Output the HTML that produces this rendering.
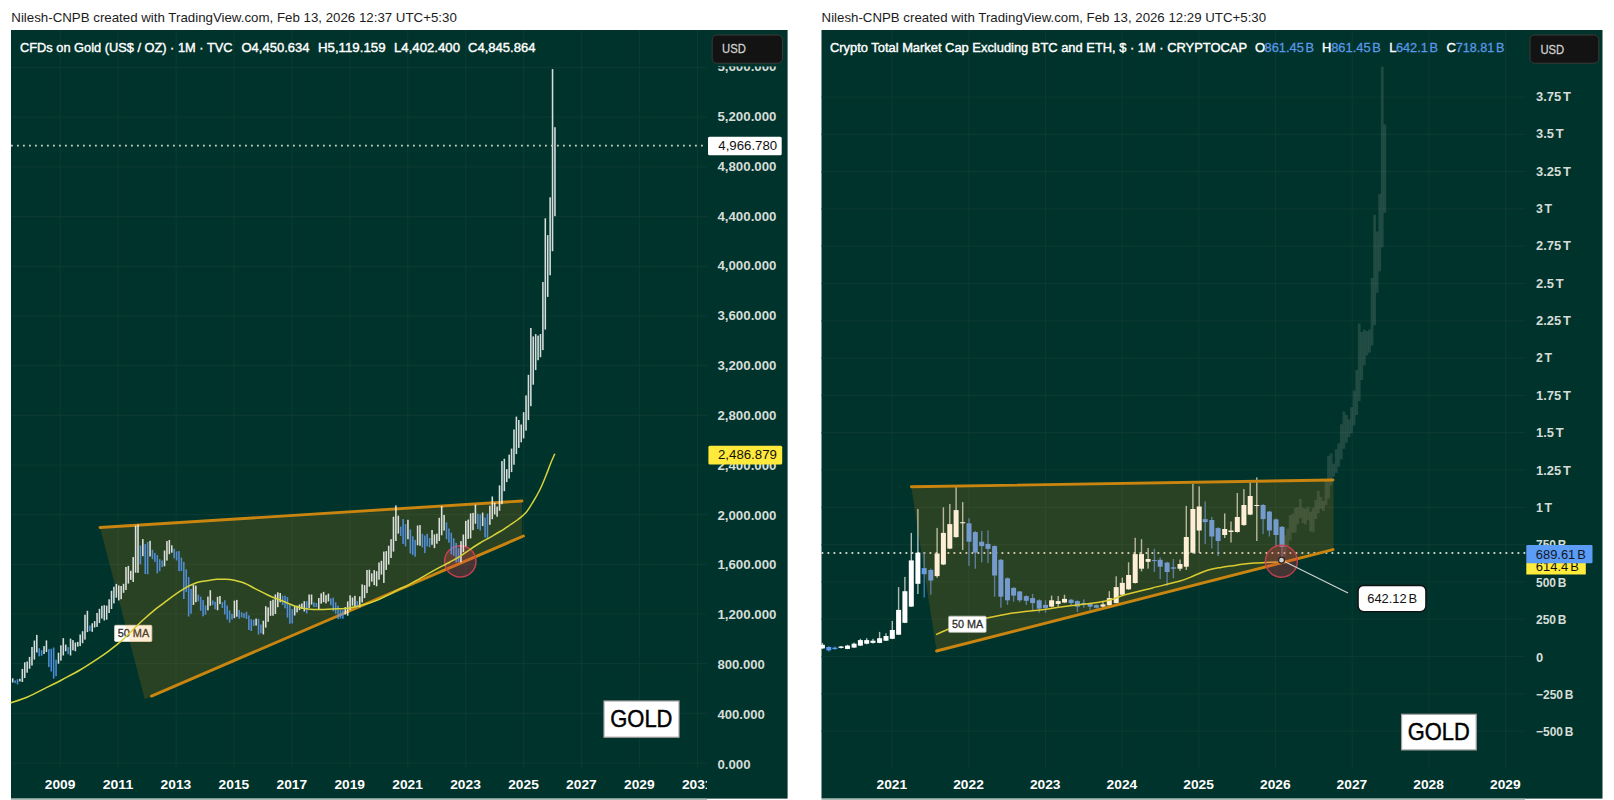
<!DOCTYPE html>
<html lang="en">
<head>
<meta charset="utf-8">
<title>Gold vs Crypto Total Market Cap (ex BTC, ETH) – TradingView snapshots</title>
<style>
html,body{margin:0;padding:0;background:#fff;}
body{width:1614px;height:800px;overflow:hidden;position:relative;font-family:"Liberation Sans",sans-serif;}
svg{position:absolute;left:0;top:0;display:block;}
svg text{font-family:"Liberation Sans",sans-serif;}
.lg{stroke:#fff;stroke-width:0.4px;}
</style>
</head>
<body>
<svg width="1614" height="800" viewBox="0 0 1614 800">
<rect x="0" y="0" width="1614" height="800" fill="#ffffff"/>
<text x="11.3" y="22" font-size="13" fill="#1c1c1c" textLength="445.5" lengthAdjust="spacingAndGlyphs">Nilesh-CNPB created with TradingView.com, Feb 13, 2026 12:37 UTC+5:30</text>
<text x="821.6" y="22" font-size="13" fill="#1c1c1c" textLength="444.5" lengthAdjust="spacingAndGlyphs">Nilesh-CNPB created with TradingView.com, Feb 13, 2026 12:29 UTC+5:30</text>
<rect x="11" y="30" width="776.6" height="768.6" fill="#00332b"/>
<g stroke="#0a3a33" stroke-width="1.2">
<line x1="60.3" y1="30" x2="60.3" y2="768"/>
<line x1="118.2" y1="30" x2="118.2" y2="768"/>
<line x1="176.1" y1="30" x2="176.1" y2="768"/>
<line x1="234.1" y1="30" x2="234.1" y2="768"/>
<line x1="292.0" y1="30" x2="292.0" y2="768"/>
<line x1="349.9" y1="30" x2="349.9" y2="768"/>
<line x1="407.8" y1="30" x2="407.8" y2="768"/>
<line x1="465.7" y1="30" x2="465.7" y2="768"/>
<line x1="523.7" y1="30" x2="523.7" y2="768"/>
<line x1="581.6" y1="30" x2="581.6" y2="768"/>
<line x1="639.5" y1="30" x2="639.5" y2="768"/>
<line x1="697.4" y1="30" x2="697.4" y2="768"/>
<line x1="11" y1="763.1" x2="707" y2="763.1"/>
<line x1="11" y1="713.4" x2="707" y2="713.4"/>
<line x1="11" y1="663.7" x2="707" y2="663.7"/>
<line x1="11" y1="614.0" x2="707" y2="614.0"/>
<line x1="11" y1="564.4" x2="707" y2="564.4"/>
<line x1="11" y1="514.7" x2="707" y2="514.7"/>
<line x1="11" y1="465.0" x2="707" y2="465.0"/>
<line x1="11" y1="415.3" x2="707" y2="415.3"/>
<line x1="11" y1="365.6" x2="707" y2="365.6"/>
<line x1="11" y1="315.9" x2="707" y2="315.9"/>
<line x1="11" y1="266.3" x2="707" y2="266.3"/>
<line x1="11" y1="216.6" x2="707" y2="216.6"/>
<line x1="11" y1="166.9" x2="707" y2="166.9"/>
<line x1="11" y1="117.2" x2="707" y2="117.2"/>
<line x1="11" y1="67.5" x2="707" y2="67.5"/>
</g>
<polygon points="100,527.5 522,501 522,536.5 144.8,699.2" fill="#ff9800" fill-opacity="0.16"/>
<line x1="100" y1="527.5" x2="522" y2="501" stroke="#c9850f" stroke-width="2.9" stroke-linecap="round"/>
<line x1="151.5" y1="696.1" x2="523.5" y2="536" stroke="#c9850f" stroke-width="2.9" stroke-linecap="round"/>
<circle cx="460.3" cy="561.4" r="15.7" fill="#e03a48" fill-opacity="0.30" stroke="#cc4050" stroke-width="1.4"/>
<g id="gold-bars" fill-opacity="0.84">
<rect x="11.92" y="678.3" width="1.56" height="4.2" fill="#ffffff"/>
<rect x="14.33" y="680.4" width="1.56" height="2.7" fill="#5b9cf6"/>
<rect x="16.74" y="679.2" width="1.56" height="5.2" fill="#5b9cf6"/>
<rect x="19.15" y="678.7" width="1.56" height="2.7" fill="#ffffff"/>
<rect x="21.56" y="668.9" width="1.56" height="13.1" fill="#ffffff"/>
<rect x="23.97" y="662.3" width="1.56" height="15.7" fill="#ffffff"/>
<rect x="26.38" y="661.5" width="1.56" height="11.2" fill="#ffffff"/>
<rect x="28.79" y="656.9" width="1.56" height="11.8" fill="#ffffff"/>
<rect x="31.20" y="647.0" width="1.56" height="18.5" fill="#ffffff"/>
<rect x="33.61" y="640.5" width="1.56" height="19.1" fill="#ffffff"/>
<rect x="36.02" y="634.9" width="1.56" height="17.6" fill="#ffffff"/>
<rect x="38.43" y="648.2" width="1.56" height="8.1" fill="#5b9cf6"/>
<rect x="40.84" y="650.2" width="1.56" height="5.6" fill="#5b9cf6"/>
<rect x="43.25" y="646.1" width="1.56" height="7.9" fill="#ffffff"/>
<rect x="45.66" y="640.4" width="1.56" height="11.6" fill="#ffffff"/>
<rect x="48.07" y="649.1" width="1.56" height="18.0" fill="#5b9cf6"/>
<rect x="50.48" y="648.8" width="1.56" height="22.7" fill="#5b9cf6"/>
<rect x="52.89" y="647.5" width="1.56" height="31.1" fill="#5b9cf6"/>
<rect x="55.30" y="659.7" width="1.56" height="16.5" fill="#5b9cf6"/>
<rect x="57.71" y="652.7" width="1.56" height="11.0" fill="#ffffff"/>
<rect x="60.12" y="645.3" width="1.56" height="15.3" fill="#ffffff"/>
<rect x="62.53" y="638.1" width="1.56" height="17.4" fill="#ffffff"/>
<rect x="64.94" y="644.6" width="1.56" height="6.6" fill="#ffffff"/>
<rect x="67.35" y="647.1" width="1.56" height="7.1" fill="#5b9cf6"/>
<rect x="69.76" y="638.6" width="1.56" height="16.9" fill="#ffffff"/>
<rect x="72.17" y="640.1" width="1.56" height="10.2" fill="#ffffff"/>
<rect x="74.58" y="642.5" width="1.56" height="8.7" fill="#ffffff"/>
<rect x="76.99" y="641.9" width="1.56" height="4.7" fill="#ffffff"/>
<rect x="79.40" y="634.5" width="1.56" height="11.6" fill="#ffffff"/>
<rect x="81.81" y="631.2" width="1.56" height="12.0" fill="#ffffff"/>
<rect x="84.22" y="614.7" width="1.56" height="24.9" fill="#ffffff"/>
<rect x="86.63" y="610.8" width="1.56" height="21.3" fill="#ffffff"/>
<rect x="89.04" y="625.6" width="1.56" height="5.5" fill="#5b9cf6"/>
<rect x="91.45" y="623.3" width="1.56" height="8.5" fill="#ffffff"/>
<rect x="93.86" y="621.1" width="1.56" height="6.4" fill="#ffffff"/>
<rect x="96.27" y="612.9" width="1.56" height="14.0" fill="#ffffff"/>
<rect x="98.68" y="608.8" width="1.56" height="14.3" fill="#ffffff"/>
<rect x="101.09" y="605.8" width="1.56" height="12.8" fill="#ffffff"/>
<rect x="103.50" y="605.2" width="1.56" height="15.3" fill="#ffffff"/>
<rect x="105.91" y="605.6" width="1.56" height="14.1" fill="#ffffff"/>
<rect x="108.32" y="599.3" width="1.56" height="13.7" fill="#ffffff"/>
<rect x="110.73" y="590.8" width="1.56" height="18.2" fill="#ffffff"/>
<rect x="113.14" y="586.7" width="1.56" height="16.7" fill="#ffffff"/>
<rect x="115.55" y="583.9" width="1.56" height="13.8" fill="#ffffff"/>
<rect x="117.96" y="585.4" width="1.56" height="15.0" fill="#ffffff"/>
<rect x="120.37" y="586.0" width="1.56" height="13.2" fill="#ffffff"/>
<rect x="122.78" y="583.8" width="1.56" height="9.0" fill="#ffffff"/>
<rect x="125.19" y="567.0" width="1.56" height="23.0" fill="#ffffff"/>
<rect x="127.60" y="565.9" width="1.56" height="17.7" fill="#ffffff"/>
<rect x="130.01" y="570.8" width="1.56" height="9.1" fill="#ffffff"/>
<rect x="132.42" y="557.1" width="1.56" height="24.9" fill="#ffffff"/>
<rect x="134.83" y="525.6" width="1.56" height="47.1" fill="#ffffff"/>
<rect x="137.24" y="524.5" width="1.56" height="48.3" fill="#ffffff"/>
<rect x="139.65" y="545.5" width="1.56" height="18.9" fill="#5b9cf6"/>
<rect x="142.06" y="539.1" width="1.56" height="17.1" fill="#ffffff"/>
<rect x="144.47" y="544.1" width="1.56" height="29.9" fill="#5b9cf6"/>
<rect x="146.88" y="542.0" width="1.56" height="32.3" fill="#5b9cf6"/>
<rect x="149.29" y="540.8" width="1.56" height="15.7" fill="#ffffff"/>
<rect x="151.70" y="549.8" width="1.56" height="9.4" fill="#5b9cf6"/>
<rect x="154.11" y="552.9" width="1.56" height="8.9" fill="#5b9cf6"/>
<rect x="156.52" y="555.1" width="1.56" height="18.3" fill="#5b9cf6"/>
<rect x="158.93" y="559.2" width="1.56" height="12.1" fill="#5b9cf6"/>
<rect x="161.34" y="560.5" width="1.56" height="6.6" fill="#5b9cf6"/>
<rect x="163.75" y="550.5" width="1.56" height="15.8" fill="#ffffff"/>
<rect x="166.16" y="541.1" width="1.56" height="19.5" fill="#ffffff"/>
<rect x="168.57" y="540.0" width="1.56" height="14.2" fill="#ffffff"/>
<rect x="170.98" y="545.3" width="1.56" height="7.4" fill="#ffffff"/>
<rect x="173.39" y="548.7" width="1.56" height="9.7" fill="#5b9cf6"/>
<rect x="175.80" y="551.4" width="1.56" height="9.1" fill="#5b9cf6"/>
<rect x="178.21" y="551.1" width="1.56" height="20.1" fill="#5b9cf6"/>
<rect x="180.62" y="557.6" width="1.56" height="13.4" fill="#5b9cf6"/>
<rect x="183.03" y="561.8" width="1.56" height="37.2" fill="#5b9cf6"/>
<rect x="185.44" y="569.3" width="1.56" height="22.8" fill="#5b9cf6"/>
<rect x="187.85" y="577.0" width="1.56" height="39.5" fill="#5b9cf6"/>
<rect x="190.26" y="588.9" width="1.56" height="24.8" fill="#5b9cf6"/>
<rect x="192.67" y="585.0" width="1.56" height="20.0" fill="#ffffff"/>
<rect x="195.08" y="585.6" width="1.56" height="16.6" fill="#ffffff"/>
<rect x="197.49" y="594.7" width="1.56" height="6.6" fill="#5b9cf6"/>
<rect x="199.90" y="596.6" width="1.56" height="14.1" fill="#5b9cf6"/>
<rect x="202.31" y="600.1" width="1.56" height="16.2" fill="#5b9cf6"/>
<rect x="204.72" y="605.4" width="1.56" height="9.3" fill="#5b9cf6"/>
<rect x="207.13" y="596.6" width="1.56" height="13.7" fill="#ffffff"/>
<rect x="209.54" y="590.2" width="1.56" height="15.6" fill="#ffffff"/>
<rect x="211.95" y="600.5" width="1.56" height="4.4" fill="#5b9cf6"/>
<rect x="214.36" y="601.7" width="1.56" height="7.7" fill="#5b9cf6"/>
<rect x="216.77" y="596.8" width="1.56" height="13.4" fill="#ffffff"/>
<rect x="219.18" y="596.0" width="1.56" height="8.1" fill="#ffffff"/>
<rect x="221.59" y="602.1" width="1.56" height="5.9" fill="#5b9cf6"/>
<rect x="224.00" y="600.2" width="1.56" height="14.3" fill="#5b9cf6"/>
<rect x="226.41" y="605.5" width="1.56" height="14.0" fill="#5b9cf6"/>
<rect x="228.82" y="610.4" width="1.56" height="12.2" fill="#5b9cf6"/>
<rect x="231.23" y="613.9" width="1.56" height="5.6" fill="#5b9cf6"/>
<rect x="233.64" y="600.6" width="1.56" height="17.5" fill="#ffffff"/>
<rect x="236.05" y="599.9" width="1.56" height="16.8" fill="#ffffff"/>
<rect x="238.46" y="610.0" width="1.56" height="8.7" fill="#5b9cf6"/>
<rect x="240.87" y="612.3" width="1.56" height="5.1" fill="#5b9cf6"/>
<rect x="243.28" y="613.2" width="1.56" height="4.7" fill="#5b9cf6"/>
<rect x="245.69" y="611.7" width="1.56" height="7.3" fill="#5b9cf6"/>
<rect x="248.10" y="615.4" width="1.56" height="14.6" fill="#5b9cf6"/>
<rect x="250.51" y="619.2" width="1.56" height="11.8" fill="#5b9cf6"/>
<rect x="252.92" y="619.7" width="1.56" height="6.2" fill="#5b9cf6"/>
<rect x="255.33" y="618.6" width="1.56" height="7.0" fill="#ffffff"/>
<rect x="257.74" y="618.8" width="1.56" height="15.8" fill="#5b9cf6"/>
<rect x="260.15" y="624.5" width="1.56" height="8.7" fill="#5b9cf6"/>
<rect x="262.56" y="620.7" width="1.56" height="13.7" fill="#ffffff"/>
<rect x="264.97" y="606.2" width="1.56" height="21.4" fill="#ffffff"/>
<rect x="267.38" y="607.4" width="1.56" height="14.4" fill="#ffffff"/>
<rect x="269.79" y="600.8" width="1.56" height="15.0" fill="#ffffff"/>
<rect x="272.20" y="599.7" width="1.56" height="16.0" fill="#ffffff"/>
<rect x="274.61" y="594.4" width="1.56" height="19.6" fill="#ffffff"/>
<rect x="277.02" y="592.3" width="1.56" height="14.9" fill="#ffffff"/>
<rect x="279.43" y="593.0" width="1.56" height="9.3" fill="#ffffff"/>
<rect x="281.84" y="595.6" width="1.56" height="9.5" fill="#5b9cf6"/>
<rect x="284.25" y="595.6" width="1.56" height="12.7" fill="#5b9cf6"/>
<rect x="286.66" y="597.0" width="1.56" height="20.6" fill="#5b9cf6"/>
<rect x="289.07" y="605.1" width="1.56" height="18.6" fill="#5b9cf6"/>
<rect x="291.48" y="609.0" width="1.56" height="14.5" fill="#5b9cf6"/>
<rect x="293.89" y="606.3" width="1.56" height="9.2" fill="#ffffff"/>
<rect x="296.30" y="605.7" width="1.56" height="6.7" fill="#ffffff"/>
<rect x="298.71" y="604.5" width="1.56" height="5.6" fill="#ffffff"/>
<rect x="301.12" y="603.5" width="1.56" height="5.5" fill="#ffffff"/>
<rect x="303.53" y="601.2" width="1.56" height="10.3" fill="#ffffff"/>
<rect x="305.94" y="601.2" width="1.56" height="12.2" fill="#5b9cf6"/>
<rect x="308.35" y="594.5" width="1.56" height="13.4" fill="#ffffff"/>
<rect x="310.76" y="594.5" width="1.56" height="10.1" fill="#ffffff"/>
<rect x="313.17" y="602.3" width="1.56" height="4.8" fill="#5b9cf6"/>
<rect x="315.58" y="603.0" width="1.56" height="4.0" fill="#5b9cf6"/>
<rect x="317.99" y="598.0" width="1.56" height="11.0" fill="#ffffff"/>
<rect x="320.40" y="593.4" width="1.56" height="10.3" fill="#ffffff"/>
<rect x="322.81" y="591.9" width="1.56" height="10.3" fill="#ffffff"/>
<rect x="325.22" y="595.1" width="1.56" height="8.3" fill="#ffffff"/>
<rect x="327.63" y="593.6" width="1.56" height="7.8" fill="#ffffff"/>
<rect x="330.04" y="598.4" width="1.56" height="6.9" fill="#5b9cf6"/>
<rect x="332.45" y="597.7" width="1.56" height="13.4" fill="#5b9cf6"/>
<rect x="334.86" y="602.3" width="1.56" height="11.4" fill="#5b9cf6"/>
<rect x="337.27" y="605.7" width="1.56" height="13.4" fill="#5b9cf6"/>
<rect x="339.68" y="609.7" width="1.56" height="8.9" fill="#5b9cf6"/>
<rect x="342.09" y="610.1" width="1.56" height="8.6" fill="#5b9cf6"/>
<rect x="344.50" y="607.1" width="1.56" height="7.4" fill="#ffffff"/>
<rect x="346.91" y="601.4" width="1.56" height="14.3" fill="#ffffff"/>
<rect x="349.32" y="595.3" width="1.56" height="14.8" fill="#ffffff"/>
<rect x="351.73" y="597.5" width="1.56" height="8.1" fill="#ffffff"/>
<rect x="354.14" y="595.8" width="1.56" height="10.8" fill="#ffffff"/>
<rect x="356.55" y="601.1" width="1.56" height="6.6" fill="#5b9cf6"/>
<rect x="358.96" y="596.4" width="1.56" height="10.7" fill="#ffffff"/>
<rect x="361.37" y="584.4" width="1.56" height="18.1" fill="#ffffff"/>
<rect x="363.78" y="585.1" width="1.56" height="13.0" fill="#ffffff"/>
<rect x="366.19" y="570.0" width="1.56" height="23.1" fill="#ffffff"/>
<rect x="368.60" y="569.7" width="1.56" height="16.9" fill="#ffffff"/>
<rect x="371.01" y="573.4" width="1.56" height="8.2" fill="#ffffff"/>
<rect x="373.42" y="570.1" width="1.56" height="15.0" fill="#ffffff"/>
<rect x="375.83" y="571.2" width="1.56" height="15.1" fill="#ffffff"/>
<rect x="378.24" y="562.5" width="1.56" height="17.2" fill="#ffffff"/>
<rect x="380.65" y="560.8" width="1.56" height="13.8" fill="#ffffff"/>
<rect x="383.06" y="551.6" width="1.56" height="31.3" fill="#ffffff"/>
<rect x="385.47" y="551.1" width="1.56" height="18.8" fill="#ffffff"/>
<rect x="387.88" y="545.7" width="1.56" height="18.8" fill="#ffffff"/>
<rect x="390.29" y="539.2" width="1.56" height="18.8" fill="#ffffff"/>
<rect x="392.70" y="516.7" width="1.56" height="34.9" fill="#ffffff"/>
<rect x="395.11" y="505.4" width="1.56" height="35.6" fill="#ffffff"/>
<rect x="397.52" y="515.7" width="1.56" height="17.9" fill="#ffffff"/>
<rect x="399.93" y="526.6" width="1.56" height="9.3" fill="#5b9cf6"/>
<rect x="402.34" y="519.0" width="1.56" height="25.0" fill="#5b9cf6"/>
<rect x="404.75" y="524.0" width="1.56" height="22.4" fill="#5b9cf6"/>
<rect x="407.16" y="519.8" width="1.56" height="19.4" fill="#ffffff"/>
<rect x="409.57" y="529.4" width="1.56" height="24.1" fill="#5b9cf6"/>
<rect x="411.98" y="536.3" width="1.56" height="18.7" fill="#5b9cf6"/>
<rect x="414.39" y="539.9" width="1.56" height="16.9" fill="#5b9cf6"/>
<rect x="416.80" y="525.5" width="1.56" height="19.8" fill="#ffffff"/>
<rect x="419.21" y="525.1" width="1.56" height="20.6" fill="#ffffff"/>
<rect x="421.62" y="533.8" width="1.56" height="13.6" fill="#5b9cf6"/>
<rect x="424.03" y="535.5" width="1.56" height="17.6" fill="#5b9cf6"/>
<rect x="426.44" y="533.8" width="1.56" height="12.6" fill="#5b9cf6"/>
<rect x="428.85" y="538.0" width="1.56" height="9.2" fill="#5b9cf6"/>
<rect x="431.26" y="530.0" width="1.56" height="14.8" fill="#ffffff"/>
<rect x="433.67" y="534.4" width="1.56" height="13.7" fill="#ffffff"/>
<rect x="436.08" y="533.6" width="1.56" height="10.1" fill="#ffffff"/>
<rect x="438.49" y="517.8" width="1.56" height="23.2" fill="#ffffff"/>
<rect x="440.90" y="506.0" width="1.56" height="29.3" fill="#ffffff"/>
<rect x="443.31" y="514.9" width="1.56" height="15.7" fill="#ffffff"/>
<rect x="445.72" y="522.3" width="1.56" height="16.9" fill="#5b9cf6"/>
<rect x="448.13" y="528.5" width="1.56" height="14.2" fill="#5b9cf6"/>
<rect x="450.54" y="532.7" width="1.56" height="21.6" fill="#5b9cf6"/>
<rect x="452.95" y="538.2" width="1.56" height="17.5" fill="#5b9cf6"/>
<rect x="455.36" y="542.8" width="1.56" height="19.7" fill="#5b9cf6"/>
<rect x="457.77" y="548.2" width="1.56" height="14.0" fill="#5b9cf6"/>
<rect x="460.18" y="541.1" width="1.56" height="21.2" fill="#ffffff"/>
<rect x="462.59" y="534.5" width="1.56" height="17.7" fill="#ffffff"/>
<rect x="465.00" y="520.9" width="1.56" height="25.5" fill="#ffffff"/>
<rect x="467.41" y="519.6" width="1.56" height="19.3" fill="#ffffff"/>
<rect x="469.82" y="513.4" width="1.56" height="25.0" fill="#ffffff"/>
<rect x="472.23" y="512.9" width="1.56" height="17.3" fill="#ffffff"/>
<rect x="474.64" y="504.7" width="1.56" height="19.0" fill="#ffffff"/>
<rect x="477.05" y="513.7" width="1.56" height="15.3" fill="#5b9cf6"/>
<rect x="479.46" y="514.4" width="1.56" height="16.0" fill="#5b9cf6"/>
<rect x="481.87" y="512.6" width="1.56" height="13.5" fill="#ffffff"/>
<rect x="484.28" y="517.5" width="1.56" height="20.0" fill="#5b9cf6"/>
<rect x="486.69" y="513.6" width="1.56" height="24.7" fill="#5b9cf6"/>
<rect x="489.10" y="505.7" width="1.56" height="19.1" fill="#ffffff"/>
<rect x="491.51" y="496.5" width="1.56" height="22.7" fill="#ffffff"/>
<rect x="493.92" y="502.7" width="1.56" height="11.8" fill="#ffffff"/>
<rect x="496.33" y="506.6" width="1.56" height="10.1" fill="#ffffff"/>
<rect x="498.74" y="485.4" width="1.56" height="25.4" fill="#ffffff"/>
<rect x="501.15" y="461.1" width="1.56" height="43.1" fill="#ffffff"/>
<rect x="503.56" y="458.8" width="1.56" height="32.4" fill="#ffffff"/>
<rect x="505.97" y="469.1" width="1.56" height="13.0" fill="#ffffff"/>
<rect x="508.38" y="454.6" width="1.56" height="23.9" fill="#ffffff"/>
<rect x="510.79" y="448.6" width="1.56" height="23.5" fill="#ffffff"/>
<rect x="513.20" y="429.5" width="1.56" height="35.2" fill="#ffffff"/>
<rect x="515.61" y="416.6" width="1.56" height="37.5" fill="#ffffff"/>
<rect x="518.02" y="420.0" width="1.56" height="27.9" fill="#ffffff"/>
<rect x="520.43" y="424.5" width="1.56" height="17.8" fill="#ffffff"/>
<rect x="522.84" y="412.2" width="1.56" height="26.2" fill="#ffffff"/>
<rect x="525.25" y="395.4" width="1.56" height="35.2" fill="#ffffff"/>
<rect x="527.66" y="374.8" width="1.56" height="45.3" fill="#ffffff"/>
<rect x="530.07" y="328.0" width="1.56" height="78.2" fill="#ffffff"/>
<rect x="532.48" y="336.4" width="1.56" height="48.3" fill="#ffffff"/>
<rect x="534.89" y="334.1" width="1.56" height="36.0" fill="#ffffff"/>
<rect x="537.30" y="335.6" width="1.56" height="24.6" fill="#ffffff"/>
<rect x="539.71" y="334.0" width="1.56" height="23.2" fill="#ffffff"/>
<rect x="542.12" y="282.0" width="1.56" height="68.1" fill="#ffffff"/>
<rect x="544.53" y="218.3" width="1.56" height="111.3" fill="#ffffff"/>
<rect x="546.94" y="235.1" width="1.56" height="61.8" fill="#ffffff"/>
<rect x="549.35" y="197.3" width="1.56" height="78.0" fill="#ffffff"/>
<rect x="551.76" y="69.1" width="1.56" height="182.1" fill="#ffffff"/>
<rect x="554.17" y="127.2" width="1.56" height="89.0" fill="#ffffff"/>
</g>
<rect x="114.6" y="625.3" width="37.2" height="16.2" rx="1.2" fill="#ffffff" stroke="#e4d9c4" stroke-width="0.8"/>
<text x="117.7" y="637.0" font-size="11" fill="#2d2d2d" font-weight="normal" text-anchor="start" textLength="31.5" lengthAdjust="spacingAndGlyphs" stroke="#2d2d2d" stroke-width="0.3">50 MA</text>
<path d="M10.5,703.0 C13.3,702.0 21.8,699.4 27.5,697.0 C33.2,694.6 39.2,691.3 45.0,688.4 C50.8,685.5 56.7,682.6 62.5,679.5 C68.3,676.4 74.2,673.5 80.0,670.0 C85.8,666.5 92.8,661.9 97.5,658.8 C102.2,655.7 103.9,654.7 108.0,651.6 C112.1,648.5 117.9,644.0 122.0,640.4 C126.1,636.8 129.0,633.6 132.5,630.2 C136.0,626.8 139.2,623.5 143.0,620.0 C146.8,616.5 151.8,612.2 155.3,609.3 C158.8,606.4 159.8,605.9 164.0,602.8 C168.2,599.7 175.0,594.2 180.5,590.8 C186.0,587.4 192.1,584.2 197.0,582.5 C201.9,580.8 206.8,580.8 210.0,580.3 C213.2,579.8 214.2,579.5 216.5,579.3 C218.8,579.1 221.8,579.2 224.0,579.2 C226.2,579.2 226.7,579.0 230.0,579.6 C233.3,580.2 239.8,581.5 244.0,583.0 C248.2,584.5 250.9,586.5 255.0,588.6 C259.1,590.7 264.2,593.4 268.8,595.5 C273.4,597.6 278.0,599.2 282.5,601.0 C287.0,602.8 291.4,605.1 296.0,606.5 C300.6,607.9 305.4,608.8 310.0,609.3 C314.6,609.8 319.2,609.6 323.8,609.5 C328.4,609.4 333.4,608.9 337.5,608.7 C341.6,608.5 343.9,608.9 348.5,608.2 C353.1,607.5 359.9,605.7 365.0,604.3 C370.1,602.9 374.2,601.5 378.8,599.6 C383.4,597.7 389.0,594.6 392.5,592.8 C396.0,591.0 397.5,590.1 400.0,588.9 C402.5,587.7 404.0,587.5 407.5,585.6 C411.0,583.8 416.4,580.4 421.0,577.8 C425.6,575.2 430.2,572.5 435.0,569.9 C439.8,567.3 445.8,564.3 450.0,562.0 C454.2,559.7 456.7,558.4 460.0,556.3 C463.3,554.2 466.7,551.7 470.0,549.5 C473.3,547.3 476.7,545.0 480.0,543.0 C483.3,541.0 486.7,539.2 490.0,537.3 C493.3,535.4 496.7,533.5 500.0,531.5 C503.3,529.5 507.0,527.0 510.0,525.0 C513.0,523.0 515.3,521.6 518.0,519.5 C520.7,517.4 523.5,515.4 526.0,512.5 C528.5,509.6 530.7,505.8 533.0,502.0 C535.3,498.2 537.8,493.9 540.0,489.5 C542.2,485.1 544.2,480.0 546.0,475.5 C547.8,471.0 549.5,466.1 551.0,462.5 C552.5,458.9 554.2,455.2 554.8,453.8" fill="none" stroke="#d6d43a" stroke-width="1.5" stroke-linejoin="round"/>
<clipPath id="lblclip"><rect x="114.2" y="624.9" width="38" height="17"/></clipPath>
<polygon points="100,527.5 522,501 522,536.5 144.8,699.2" fill="#ff9800" fill-opacity="0.16" clip-path="url(#lblclip)"/>
<line x1="11" y1="145.6" x2="706.5" y2="145.6" stroke="#c9cfc9" stroke-width="1.8" stroke-dasharray="1.8 4.2"/>
<rect x="604" y="701" width="75" height="36.2" fill="#fff" stroke="#a9a3a3" stroke-width="1.2"/>
<text x="610.2" y="726.6" font-size="24" fill="#000" font-weight="normal" text-anchor="start" textLength="62.3" lengthAdjust="spacingAndGlyphs" stroke="#000" stroke-width="0.45">GOLD</text>
<text x="20.0" y="51.6" font-size="13" fill="#fff" font-weight="normal" text-anchor="start" textLength="212.5" lengthAdjust="spacingAndGlyphs" class="lg">CFDs on Gold (US$ / OZ) · 1M · TVC</text>
<text x="241.5" y="51.6" font-size="13" fill="#fff" font-weight="normal" text-anchor="start" textLength="68.0" lengthAdjust="spacingAndGlyphs" class="lg">O4,450.634</text>
<text x="318.0" y="51.6" font-size="13" fill="#fff" font-weight="normal" text-anchor="start" textLength="67.5" lengthAdjust="spacingAndGlyphs" class="lg">H5,119.159</text>
<text x="394.0" y="51.6" font-size="13" fill="#fff" font-weight="normal" text-anchor="start" textLength="66.0" lengthAdjust="spacingAndGlyphs" class="lg">L4,402.400</text>
<text x="468.0" y="51.6" font-size="13" fill="#fff" font-weight="normal" text-anchor="start" textLength="67.5" lengthAdjust="spacingAndGlyphs" class="lg">C4,845.864</text>
<clipPath id="lclip"><rect x="707" y="66.6" width="81" height="740"/></clipPath>
<g clip-path="url(#lclip)">
<text x="717.4" y="768.7" font-size="12.6" fill="#d6ddd8" font-weight="bold" text-anchor="start" textLength="33.1" lengthAdjust="spacingAndGlyphs">0.000</text>
<text x="717.4" y="718.9" font-size="12.6" fill="#d6ddd8" font-weight="bold" text-anchor="start" textLength="47.4" lengthAdjust="spacingAndGlyphs">400.000</text>
<text x="717.4" y="669.0" font-size="12.6" fill="#d6ddd8" font-weight="bold" text-anchor="start" textLength="47.4" lengthAdjust="spacingAndGlyphs">800.000</text>
<text x="717.4" y="619.2" font-size="12.6" fill="#d6ddd8" font-weight="bold" text-anchor="start" textLength="59.1" lengthAdjust="spacingAndGlyphs">1,200.000</text>
<text x="717.4" y="569.3" font-size="12.6" fill="#d6ddd8" font-weight="bold" text-anchor="start" textLength="59.1" lengthAdjust="spacingAndGlyphs">1,600.000</text>
<text x="717.4" y="519.5" font-size="12.6" fill="#d6ddd8" font-weight="bold" text-anchor="start" textLength="59.1" lengthAdjust="spacingAndGlyphs">2,000.000</text>
<text x="717.4" y="469.7" font-size="12.6" fill="#d6ddd8" font-weight="bold" text-anchor="start" textLength="59.1" lengthAdjust="spacingAndGlyphs">2,400.000</text>
<text x="717.4" y="419.8" font-size="12.6" fill="#d6ddd8" font-weight="bold" text-anchor="start" textLength="59.1" lengthAdjust="spacingAndGlyphs">2,800.000</text>
<text x="717.4" y="370.0" font-size="12.6" fill="#d6ddd8" font-weight="bold" text-anchor="start" textLength="59.1" lengthAdjust="spacingAndGlyphs">3,200.000</text>
<text x="717.4" y="320.1" font-size="12.6" fill="#d6ddd8" font-weight="bold" text-anchor="start" textLength="59.1" lengthAdjust="spacingAndGlyphs">3,600.000</text>
<text x="717.4" y="270.3" font-size="12.6" fill="#d6ddd8" font-weight="bold" text-anchor="start" textLength="59.1" lengthAdjust="spacingAndGlyphs">4,000.000</text>
<text x="717.4" y="220.5" font-size="12.6" fill="#d6ddd8" font-weight="bold" text-anchor="start" textLength="59.1" lengthAdjust="spacingAndGlyphs">4,400.000</text>
<text x="717.4" y="170.6" font-size="12.6" fill="#d6ddd8" font-weight="bold" text-anchor="start" textLength="59.1" lengthAdjust="spacingAndGlyphs">4,800.000</text>
<text x="717.4" y="120.8" font-size="12.6" fill="#d6ddd8" font-weight="bold" text-anchor="start" textLength="59.1" lengthAdjust="spacingAndGlyphs">5,200.000</text>
<text x="717.4" y="70.9" font-size="12.6" fill="#d6ddd8" font-weight="bold" text-anchor="start" textLength="59.1" lengthAdjust="spacingAndGlyphs">5,600.000</text>
</g>
<rect x="708" y="136.8" width="73.7" height="18.5" rx="1.5" fill="#fff"/>
<text x="718.3" y="149.6" font-size="12.2" fill="#111" font-weight="normal" text-anchor="start" textLength="58.9" lengthAdjust="spacingAndGlyphs">4,966.780</text>
<rect x="708.4" y="445.8" width="73.8" height="18.6" rx="1.5" fill="#ffe93a"/>
<text x="718.0" y="458.7" font-size="12.2" fill="#111" font-weight="normal" text-anchor="start" textLength="58.9" lengthAdjust="spacingAndGlyphs">2,486.879</text>
<rect x="712.2" y="35" width="70.2" height="28.2" rx="4.5" fill="#131313" stroke="#3b3b3b" stroke-width="1"/>
<text x="722.0" y="53.3" font-size="13.4" fill="#cfcfcf" font-weight="normal" text-anchor="start" textLength="23.8" lengthAdjust="spacingAndGlyphs" stroke="#cfcfcf" stroke-width="0.3">USD</text>
<text x="44.8" y="789.1" font-size="13.4" fill="#fff" font-weight="bold" text-anchor="start" textLength="30.6" lengthAdjust="spacingAndGlyphs">2009</text>
<text x="102.7" y="789.1" font-size="13.4" fill="#fff" font-weight="bold" text-anchor="start" textLength="30.6" lengthAdjust="spacingAndGlyphs">2011</text>
<text x="160.6" y="789.1" font-size="13.4" fill="#fff" font-weight="bold" text-anchor="start" textLength="30.6" lengthAdjust="spacingAndGlyphs">2013</text>
<text x="218.6" y="789.1" font-size="13.4" fill="#fff" font-weight="bold" text-anchor="start" textLength="30.6" lengthAdjust="spacingAndGlyphs">2015</text>
<text x="276.5" y="789.1" font-size="13.4" fill="#fff" font-weight="bold" text-anchor="start" textLength="30.6" lengthAdjust="spacingAndGlyphs">2017</text>
<text x="334.4" y="789.1" font-size="13.4" fill="#fff" font-weight="bold" text-anchor="start" textLength="30.6" lengthAdjust="spacingAndGlyphs">2019</text>
<text x="392.3" y="789.1" font-size="13.4" fill="#fff" font-weight="bold" text-anchor="start" textLength="30.6" lengthAdjust="spacingAndGlyphs">2021</text>
<text x="450.2" y="789.1" font-size="13.4" fill="#fff" font-weight="bold" text-anchor="start" textLength="30.6" lengthAdjust="spacingAndGlyphs">2023</text>
<text x="508.2" y="789.1" font-size="13.4" fill="#fff" font-weight="bold" text-anchor="start" textLength="30.6" lengthAdjust="spacingAndGlyphs">2025</text>
<text x="566.1" y="789.1" font-size="13.4" fill="#fff" font-weight="bold" text-anchor="start" textLength="30.6" lengthAdjust="spacingAndGlyphs">2027</text>
<text x="624.0" y="789.1" font-size="13.4" fill="#fff" font-weight="bold" text-anchor="start" textLength="30.6" lengthAdjust="spacingAndGlyphs">2029</text>
<clipPath id="lclip2"><rect x="600" y="770" width="107" height="30"/></clipPath>
<text x="681.9" y="789.1" font-size="13.4" fill="#fff" font-weight="bold" text-anchor="start" textLength="30.6" lengthAdjust="spacingAndGlyphs" clip-path="url(#lclip2)">2031</text>
<rect x="821.5" y="30" width="781.0" height="768.6" fill="#00332b"/>
<g stroke="#0a3a33" stroke-width="1.2">
<line x1="892.1" y1="30" x2="892.1" y2="768"/>
<line x1="968.8" y1="30" x2="968.8" y2="768"/>
<line x1="1045.5" y1="30" x2="1045.5" y2="768"/>
<line x1="1122.2" y1="30" x2="1122.2" y2="768"/>
<line x1="1198.9" y1="30" x2="1198.9" y2="768"/>
<line x1="1275.5" y1="30" x2="1275.5" y2="768"/>
<line x1="1352.2" y1="30" x2="1352.2" y2="768"/>
<line x1="1428.9" y1="30" x2="1428.9" y2="768"/>
<line x1="1505.6" y1="30" x2="1505.6" y2="768"/>
<line x1="821.5" y1="731.1" x2="1525" y2="731.1"/>
<line x1="821.5" y1="693.8" x2="1525" y2="693.8"/>
<line x1="821.5" y1="656.5" x2="1525" y2="656.5"/>
<line x1="821.5" y1="619.2" x2="1525" y2="619.2"/>
<line x1="821.5" y1="581.9" x2="1525" y2="581.9"/>
<line x1="821.5" y1="544.6" x2="1525" y2="544.6"/>
<line x1="821.5" y1="507.3" x2="1525" y2="507.3"/>
<line x1="821.5" y1="470.0" x2="1525" y2="470.0"/>
<line x1="821.5" y1="432.7" x2="1525" y2="432.7"/>
<line x1="821.5" y1="395.4" x2="1525" y2="395.4"/>
<line x1="821.5" y1="358.1" x2="1525" y2="358.1"/>
<line x1="821.5" y1="320.8" x2="1525" y2="320.8"/>
<line x1="821.5" y1="283.5" x2="1525" y2="283.5"/>
<line x1="821.5" y1="246.2" x2="1525" y2="246.2"/>
<line x1="821.5" y1="208.9" x2="1525" y2="208.9"/>
<line x1="821.5" y1="171.6" x2="1525" y2="171.6"/>
<line x1="821.5" y1="134.3" x2="1525" y2="134.3"/>
<line x1="821.5" y1="97.0" x2="1525" y2="97.0"/>
</g>
<line x1="821.5" y1="553" x2="1527" y2="553" stroke="#c9cfc9" stroke-width="1.8" stroke-dasharray="1.8 4.2"/>
<g id="t3-candles">
<rect x="821.7" y="642.9" width="1.4" height="6.1" fill="#ffffff" fill-opacity="0.68"/>
<rect x="819.9" y="644.8" width="5" height="3.6" fill="#ffffff"/>
<rect x="828.1" y="646.2" width="1.4" height="5.5" fill="#5b9cf6" fill-opacity="0.68"/>
<rect x="826.3" y="647.0" width="5" height="3.3" fill="#5b9cf6"/>
<rect x="834.1" y="646.5" width="1.4" height="3.3" fill="#5b9cf6" fill-opacity="0.68"/>
<rect x="832.3" y="647.6" width="5" height="1.4" fill="#5b9cf6"/>
<rect x="840.4" y="645.9" width="1.4" height="2.5" fill="#ffffff" fill-opacity="0.68"/>
<rect x="838.6" y="646.5" width="5" height="1.4" fill="#ffffff"/>
<rect x="846.8" y="644.8" width="1.4" height="4.4" fill="#ffffff" fill-opacity="0.68"/>
<rect x="845.0" y="645.6" width="5" height="3.3" fill="#ffffff"/>
<rect x="853.4" y="642.6" width="1.4" height="5.2" fill="#ffffff" fill-opacity="0.68"/>
<rect x="851.6" y="643.7" width="5" height="3.9" fill="#ffffff"/>
<rect x="859.7" y="638.8" width="1.4" height="7.2" fill="#ffffff" fill-opacity="0.68"/>
<rect x="857.9" y="640.1" width="5" height="5.5" fill="#ffffff"/>
<rect x="866.0" y="638.2" width="1.4" height="6.1" fill="#ffffff" fill-opacity="0.68"/>
<rect x="864.2" y="640.1" width="5" height="3.6" fill="#ffffff"/>
<rect x="872.3" y="638.8" width="1.4" height="4.7" fill="#ffffff" fill-opacity="0.68"/>
<rect x="870.5" y="640.7" width="5" height="2.2" fill="#ffffff"/>
<rect x="878.9" y="631.9" width="1.4" height="11.3" fill="#ffffff" fill-opacity="0.68"/>
<rect x="877.1" y="638.2" width="5" height="4.7" fill="#ffffff"/>
<rect x="885.3" y="633.3" width="1.4" height="7.7" fill="#ffffff" fill-opacity="0.68"/>
<rect x="883.5" y="636.0" width="5" height="4.7" fill="#ffffff"/>
<rect x="891.6" y="620.9" width="1.4" height="18.2" fill="#ffffff" fill-opacity="0.68"/>
<rect x="889.8" y="630.0" width="5" height="8.8" fill="#ffffff"/>
<rect x="897.9" y="587.1" width="1.4" height="47.9" fill="#ffffff" fill-opacity="0.68"/>
<rect x="896.1" y="609.9" width="5" height="24.8" fill="#ffffff"/>
<rect x="904.2" y="576.9" width="1.4" height="46.2" fill="#ffffff" fill-opacity="0.68"/>
<rect x="902.4" y="591.2" width="5" height="31.6" fill="#ffffff"/>
<rect x="910.6" y="532.9" width="1.4" height="74.0" fill="#ffffff" fill-opacity="0.68"/>
<rect x="908.8" y="560.4" width="5" height="46.2" fill="#ffffff"/>
<rect x="917.2" y="509.0" width="1.4" height="85.0" fill="#ffffff" fill-opacity="0.68"/>
<rect x="915.4" y="552.7" width="5" height="31.1" fill="#ffffff"/>
<rect x="923.5" y="552.1" width="1.4" height="45.4" fill="#5b9cf6" fill-opacity="0.68"/>
<rect x="921.7" y="568.1" width="5" height="6.1" fill="#5b9cf6"/>
<rect x="930.1" y="568.6" width="1.4" height="26.1" fill="#5b9cf6" fill-opacity="0.68"/>
<rect x="928.3" y="570.0" width="5" height="10.5" fill="#5b9cf6"/>
<rect x="936.4" y="527.9" width="1.4" height="49.8" fill="#ffffff" fill-opacity="0.68"/>
<rect x="934.6" y="553.5" width="5" height="22.6" fill="#ffffff"/>
<rect x="942.7" y="507.3" width="1.4" height="57.8" fill="#ffffff" fill-opacity="0.68"/>
<rect x="940.9" y="532.9" width="5" height="31.6" fill="#ffffff"/>
<rect x="949.1" y="504.0" width="1.4" height="45.1" fill="#ffffff" fill-opacity="0.68"/>
<rect x="947.3" y="524.1" width="5" height="24.5" fill="#ffffff"/>
<rect x="955.4" y="487.0" width="1.4" height="50.6" fill="#ffffff" fill-opacity="0.68"/>
<rect x="953.6" y="510.1" width="5" height="27.0" fill="#ffffff"/>
<rect x="962.0" y="502.1" width="1.4" height="47.9" fill="#ffffff" fill-opacity="0.68"/>
<rect x="960.2" y="522.2" width="5" height="1.1" fill="#ffffff"/>
<rect x="968.3" y="518.3" width="1.4" height="47.6" fill="#5b9cf6" fill-opacity="0.68"/>
<rect x="966.5" y="523.3" width="5" height="18.4" fill="#5b9cf6"/>
<rect x="974.6" y="531.0" width="1.4" height="37.7" fill="#5b9cf6" fill-opacity="0.68"/>
<rect x="972.8" y="532.1" width="5" height="20.6" fill="#5b9cf6"/>
<rect x="981.0" y="531.0" width="1.4" height="31.4" fill="#5b9cf6" fill-opacity="0.68"/>
<rect x="979.2" y="541.7" width="5" height="4.4" fill="#5b9cf6"/>
<rect x="987.3" y="530.4" width="1.4" height="32.7" fill="#5b9cf6" fill-opacity="0.68"/>
<rect x="985.5" y="543.9" width="5" height="5.0" fill="#5b9cf6"/>
<rect x="993.9" y="545.3" width="1.4" height="51.4" fill="#5b9cf6" fill-opacity="0.68"/>
<rect x="992.1" y="546.1" width="5" height="29.4" fill="#5b9cf6"/>
<rect x="1000.2" y="559.0" width="1.4" height="48.7" fill="#5b9cf6" fill-opacity="0.68"/>
<rect x="998.4" y="559.8" width="5" height="36.9" fill="#5b9cf6"/>
<rect x="1006.8" y="577.4" width="1.4" height="27.5" fill="#5b9cf6" fill-opacity="0.68"/>
<rect x="1005.0" y="578.3" width="5" height="22.0" fill="#5b9cf6"/>
<rect x="1012.9" y="587.1" width="1.4" height="14.6" fill="#5b9cf6" fill-opacity="0.68"/>
<rect x="1011.1" y="587.9" width="5" height="7.7" fill="#5b9cf6"/>
<rect x="1019.0" y="590.9" width="1.4" height="11.3" fill="#5b9cf6" fill-opacity="0.68"/>
<rect x="1017.2" y="591.5" width="5" height="8.8" fill="#5b9cf6"/>
<rect x="1025.6" y="595.3" width="1.4" height="9.6" fill="#5b9cf6" fill-opacity="0.68"/>
<rect x="1023.8" y="596.1" width="5" height="4.7" fill="#5b9cf6"/>
<rect x="1031.9" y="593.9" width="1.4" height="16.5" fill="#5b9cf6" fill-opacity="0.68"/>
<rect x="1030.1" y="598.1" width="5" height="5.0" fill="#5b9cf6"/>
<rect x="1038.5" y="599.4" width="1.4" height="13.2" fill="#5b9cf6" fill-opacity="0.68"/>
<rect x="1036.7" y="600.3" width="5" height="8.3" fill="#5b9cf6"/>
<rect x="1044.8" y="600.3" width="1.4" height="12.4" fill="#5b9cf6" fill-opacity="0.68"/>
<rect x="1043.0" y="604.9" width="5" height="3.0" fill="#5b9cf6"/>
<rect x="1050.9" y="595.6" width="1.4" height="11.6" fill="#ffffff" fill-opacity="0.68"/>
<rect x="1049.1" y="600.3" width="5" height="6.3" fill="#ffffff"/>
<rect x="1057.5" y="596.1" width="1.4" height="10.5" fill="#ffffff" fill-opacity="0.68"/>
<rect x="1055.7" y="601.1" width="5" height="2.8" fill="#ffffff"/>
<rect x="1063.8" y="594.8" width="1.4" height="8.3" fill="#ffffff" fill-opacity="0.68"/>
<rect x="1062.0" y="598.9" width="5" height="3.6" fill="#ffffff"/>
<rect x="1070.4" y="598.9" width="1.4" height="6.1" fill="#5b9cf6" fill-opacity="0.68"/>
<rect x="1068.6" y="599.7" width="5" height="3.3" fill="#5b9cf6"/>
<rect x="1076.7" y="600.3" width="1.4" height="11.6" fill="#5b9cf6" fill-opacity="0.68"/>
<rect x="1074.9" y="601.1" width="5" height="5.5" fill="#5b9cf6"/>
<rect x="1083.1" y="599.4" width="1.4" height="8.3" fill="#5b9cf6" fill-opacity="0.68"/>
<rect x="1081.3" y="603.0" width="5" height="1.4" fill="#5b9cf6"/>
<rect x="1089.4" y="602.7" width="1.4" height="7.2" fill="#5b9cf6" fill-opacity="0.68"/>
<rect x="1087.6" y="603.6" width="5" height="3.0" fill="#5b9cf6"/>
<rect x="1095.7" y="604.4" width="1.4" height="4.1" fill="#5b9cf6" fill-opacity="0.68"/>
<rect x="1093.9" y="605.2" width="5" height="2.5" fill="#5b9cf6"/>
<rect x="1102.3" y="600.8" width="1.4" height="7.7" fill="#ffffff" fill-opacity="0.68"/>
<rect x="1100.5" y="604.4" width="5" height="2.2" fill="#ffffff"/>
<rect x="1108.6" y="591.2" width="1.4" height="14.6" fill="#ffffff" fill-opacity="0.68"/>
<rect x="1106.8" y="598.1" width="5" height="7.2" fill="#ffffff"/>
<rect x="1115.5" y="576.3" width="1.4" height="27.0" fill="#ffffff" fill-opacity="0.68"/>
<rect x="1113.7" y="587.1" width="5" height="16.0" fill="#ffffff"/>
<rect x="1121.6" y="577.7" width="1.4" height="17.6" fill="#ffffff" fill-opacity="0.68"/>
<rect x="1119.8" y="582.9" width="5" height="11.8" fill="#ffffff"/>
<rect x="1127.9" y="562.3" width="1.4" height="27.5" fill="#ffffff" fill-opacity="0.68"/>
<rect x="1126.1" y="575.0" width="5" height="14.3" fill="#ffffff"/>
<rect x="1134.5" y="537.8" width="1.4" height="45.7" fill="#ffffff" fill-opacity="0.68"/>
<rect x="1132.7" y="554.1" width="5" height="28.9" fill="#ffffff"/>
<rect x="1140.8" y="539.2" width="1.4" height="32.2" fill="#ffffff" fill-opacity="0.68"/>
<rect x="1139.0" y="554.1" width="5" height="14.6" fill="#ffffff"/>
<rect x="1147.4" y="548.0" width="1.4" height="20.6" fill="#ffffff" fill-opacity="0.68"/>
<rect x="1145.6" y="559.0" width="5" height="2.8" fill="#ffffff"/>
<rect x="1153.7" y="548.8" width="1.4" height="23.1" fill="#5b9cf6" fill-opacity="0.68"/>
<rect x="1151.9" y="560.1" width="5" height="1.0" fill="#5b9cf6"/>
<rect x="1159.5" y="557.6" width="1.4" height="21.5" fill="#5b9cf6" fill-opacity="0.68"/>
<rect x="1157.7" y="559.8" width="5" height="6.9" fill="#5b9cf6"/>
<rect x="1166.4" y="561.8" width="1.4" height="23.9" fill="#5b9cf6" fill-opacity="0.68"/>
<rect x="1164.6" y="562.6" width="5" height="9.4" fill="#5b9cf6"/>
<rect x="1172.7" y="559.0" width="1.4" height="19.3" fill="#5b9cf6" fill-opacity="0.68"/>
<rect x="1170.9" y="567.3" width="5" height="1.4" fill="#5b9cf6"/>
<rect x="1179.3" y="559.6" width="1.4" height="11.3" fill="#ffffff" fill-opacity="0.68"/>
<rect x="1177.5" y="564.0" width="5" height="4.7" fill="#ffffff"/>
<rect x="1185.6" y="505.9" width="1.4" height="64.1" fill="#ffffff" fill-opacity="0.68"/>
<rect x="1183.8" y="537.0" width="5" height="29.7" fill="#ffffff"/>
<rect x="1192.2" y="483.9" width="1.4" height="69.6" fill="#ffffff" fill-opacity="0.68"/>
<rect x="1190.4" y="509.0" width="5" height="43.7" fill="#ffffff"/>
<rect x="1198.5" y="486.4" width="1.4" height="66.6" fill="#ffffff" fill-opacity="0.68"/>
<rect x="1196.7" y="506.5" width="5" height="24.0" fill="#ffffff"/>
<rect x="1204.5" y="501.4" width="1.4" height="42.6" fill="#5b9cf6" fill-opacity="0.68"/>
<rect x="1202.7" y="519.1" width="5" height="3.0" fill="#5b9cf6"/>
<rect x="1211.1" y="517.0" width="1.4" height="31.5" fill="#5b9cf6" fill-opacity="0.68"/>
<rect x="1209.3" y="520.0" width="5" height="16.5" fill="#5b9cf6"/>
<rect x="1217.4" y="527.2" width="1.4" height="28.8" fill="#5b9cf6" fill-opacity="0.68"/>
<rect x="1215.6" y="528.1" width="5" height="12.9" fill="#5b9cf6"/>
<rect x="1224.0" y="513.4" width="1.4" height="24.6" fill="#ffffff" fill-opacity="0.68"/>
<rect x="1222.2" y="529.0" width="5" height="6.0" fill="#ffffff"/>
<rect x="1230.3" y="521.5" width="1.4" height="21.0" fill="#ffffff" fill-opacity="0.68"/>
<rect x="1228.5" y="530.5" width="5" height="1.5" fill="#ffffff"/>
<rect x="1236.6" y="493.0" width="1.4" height="39.6" fill="#ffffff" fill-opacity="0.68"/>
<rect x="1234.8" y="517.0" width="5" height="15.0" fill="#ffffff"/>
<rect x="1243.2" y="489.1" width="1.4" height="36.6" fill="#ffffff" fill-opacity="0.68"/>
<rect x="1241.4" y="505.0" width="5" height="20.1" fill="#ffffff"/>
<rect x="1249.5" y="481.0" width="1.4" height="34.2" fill="#ffffff" fill-opacity="0.68"/>
<rect x="1247.7" y="496.0" width="5" height="18.6" fill="#ffffff"/>
<rect x="1256.1" y="477.4" width="1.4" height="63.6" fill="#ffffff" fill-opacity="0.68"/>
<rect x="1254.3" y="505.0" width="5" height="1.0" fill="#ffffff"/>
<rect x="1262.4" y="504.1" width="1.4" height="30.0" fill="#5b9cf6" fill-opacity="0.68"/>
<rect x="1260.6" y="505.0" width="5" height="14.1" fill="#5b9cf6"/>
<rect x="1268.7" y="510.7" width="1.4" height="25.8" fill="#5b9cf6" fill-opacity="0.68"/>
<rect x="1266.9" y="511.6" width="5" height="18.9" fill="#5b9cf6"/>
<rect x="1275.3" y="518.5" width="1.4" height="28.5" fill="#5b9cf6" fill-opacity="0.68"/>
<rect x="1273.5" y="519.4" width="5" height="15.6" fill="#5b9cf6"/>
<rect x="1281.3" y="526.0" width="1.4" height="34.5" fill="#5b9cf6" fill-opacity="0.68"/>
<rect x="1279.5" y="526.9" width="5" height="20.1" fill="#5b9cf6"/>
</g>
<g id="ghost" fill="#b4beb6" fill-opacity="0.17">
<rect x="1283.60" y="535.2" width="2.8" height="21.1"/>
<rect x="1286.16" y="528.6" width="2.8" height="17.6"/>
<rect x="1288.72" y="515.1" width="2.8" height="25.3"/>
<rect x="1291.28" y="513.8" width="2.8" height="19.1"/>
<rect x="1293.84" y="507.7" width="2.8" height="24.8"/>
<rect x="1296.40" y="507.2" width="2.8" height="17.1"/>
<rect x="1298.96" y="499.0" width="2.8" height="18.8"/>
<rect x="1301.52" y="507.9" width="2.8" height="15.2"/>
<rect x="1304.08" y="508.6" width="2.8" height="15.9"/>
<rect x="1306.64" y="506.8" width="2.8" height="13.4"/>
<rect x="1309.20" y="511.7" width="2.8" height="19.8"/>
<rect x="1311.76" y="507.8" width="2.8" height="24.5"/>
<rect x="1314.32" y="500.0" width="2.8" height="19.0"/>
<rect x="1316.88" y="490.9" width="2.8" height="22.5"/>
<rect x="1319.44" y="497.0" width="2.8" height="11.7"/>
<rect x="1322.00" y="500.9" width="2.8" height="10.0"/>
<rect x="1324.56" y="479.8" width="2.8" height="25.2"/>
<rect x="1327.12" y="455.8" width="2.8" height="42.8"/>
<rect x="1329.68" y="453.4" width="2.8" height="32.2"/>
<rect x="1332.24" y="463.7" width="2.8" height="12.9"/>
<rect x="1334.80" y="449.2" width="2.8" height="23.7"/>
<rect x="1337.36" y="443.3" width="2.8" height="23.3"/>
<rect x="1339.92" y="424.3" width="2.8" height="35.0"/>
<rect x="1342.48" y="411.5" width="2.8" height="37.2"/>
<rect x="1345.04" y="414.9" width="2.8" height="27.7"/>
<rect x="1347.60" y="419.4" width="2.8" height="17.6"/>
<rect x="1350.16" y="407.2" width="2.8" height="26.0"/>
<rect x="1352.72" y="390.5" width="2.8" height="35.0"/>
<rect x="1355.28" y="370.1" width="2.8" height="44.9"/>
<rect x="1357.84" y="323.6" width="2.8" height="77.6"/>
<rect x="1360.40" y="332.0" width="2.8" height="48.0"/>
<rect x="1362.96" y="329.6" width="2.8" height="35.7"/>
<rect x="1365.52" y="331.1" width="2.8" height="24.4"/>
<rect x="1368.08" y="329.5" width="2.8" height="23.1"/>
<rect x="1370.64" y="278.0" width="2.8" height="67.6"/>
<rect x="1373.20" y="214.7" width="2.8" height="110.5"/>
<rect x="1375.76" y="231.4" width="2.8" height="61.4"/>
<rect x="1378.32" y="193.9" width="2.8" height="77.4"/>
<rect x="1380.88" y="66.6" width="2.8" height="180.7"/>
<rect x="1383.44" y="124.3" width="2.8" height="88.4"/>
</g>
<path d="M936.0,634.6 C937.3,634.0 941.2,632.1 944.0,631.0 C946.8,629.9 948.8,629.1 952.5,627.8 C956.2,626.5 961.4,624.6 966.0,623.2 C970.6,621.8 973.1,621.0 980.0,619.5 C986.9,618.0 1001.7,615.1 1007.5,614.0 C1013.3,612.9 1010.4,613.4 1015.0,612.8 C1019.6,612.2 1030.4,610.9 1035.0,610.4 C1039.6,609.9 1036.7,610.5 1042.5,609.7 C1048.3,608.9 1060.8,607.0 1070.0,605.8 C1079.2,604.6 1090.7,603.5 1097.5,602.5 C1104.3,601.5 1106.4,601.0 1111.0,599.7 C1115.6,598.4 1118.1,596.8 1125.0,594.8 C1131.9,592.8 1143.3,590.2 1152.5,587.9 C1161.7,585.6 1173.1,583.0 1180.0,581.0 C1186.9,579.0 1189.2,577.6 1193.8,575.8 C1198.4,574.0 1203.0,571.6 1207.5,570.2 C1212.0,568.8 1216.4,568.2 1221.0,567.4 C1225.6,566.6 1231.8,565.9 1235.0,565.4 C1238.2,564.9 1236.7,565.0 1240.0,564.6 C1243.3,564.2 1250.0,563.4 1255.0,563.0 C1260.0,562.6 1265.6,562.5 1270.0,562.3 C1274.4,562.1 1279.5,562.0 1281.4,562.0" fill="none" stroke="#d6d43a" stroke-width="1.5" stroke-linejoin="round"/>
<polygon points="911.3,486.8 1333.5,480 1333.5,549.5 936.6,651.6" fill="#ff9800" fill-opacity="0.16"/>
<line x1="911.4" y1="486.8" x2="1333" y2="480" stroke="#c9850f" stroke-width="2.9" stroke-linecap="round"/>
<line x1="936.5" y1="651" x2="1333" y2="549.6" stroke="#c9850f" stroke-width="2.9" stroke-linecap="round"/>
<circle cx="1281.4" cy="561.2" r="16" fill="#e03a48" fill-opacity="0.30" stroke="#cc4050" stroke-width="1.4" stroke-opacity="0.9"/>
<line x1="1283" y1="560.8" x2="1348" y2="593" stroke="#cfd3cf" stroke-width="1.1"/>
<circle cx="1281.5" cy="560.2" r="2.9" fill="#cfcfcf" stroke="#1c1c1c" stroke-width="1.1"/>
<rect x="1358.1" y="585.5" width="67.8" height="26.1" rx="5.5" fill="#fff" stroke="#111" stroke-width="1.4"/>
<text x="1367.3" y="602.5" font-size="12.2" fill="#111" font-weight="normal" text-anchor="start" textLength="49.9" lengthAdjust="spacingAndGlyphs">642.12<tspan dx="1.8">B</tspan></text>
<rect x="948.7" y="616.2" width="37.4" height="16.1" rx="1" fill="#fff" stroke="#c4c4bc" stroke-width="0.8"/>
<text x="951.9" y="627.9" font-size="11" fill="#2d2d2d" font-weight="normal" text-anchor="start" textLength="31.2" lengthAdjust="spacingAndGlyphs" stroke="#2d2d2d" stroke-width="0.3">50 MA</text>
<rect x="1401.6" y="714.3" width="74.6" height="35.6" fill="#fff" stroke="#a9a3a3" stroke-width="1.2"/>
<text x="1407.7" y="739.7" font-size="24" fill="#000" font-weight="normal" text-anchor="start" textLength="62.0" lengthAdjust="spacingAndGlyphs" stroke="#000" stroke-width="0.45">GOLD</text>
<text x="830.0" y="51.6" font-size="13" fill="#fff" font-weight="normal" text-anchor="start" textLength="417.0" lengthAdjust="spacingAndGlyphs" class="lg">Crypto Total Market Cap Excluding BTC and ETH, $ · 1M · CRYPTOCAP</text>
<text x="1255.1" y="51.6" font-size="13" fill="#fff" font-weight="normal" text-anchor="start" class="lg">O</text>
<text x="1264.6" y="51.6" font-size="13" fill="#5a97e6" font-weight="normal" text-anchor="start" textLength="49.4" lengthAdjust="spacingAndGlyphs" stroke="#5a97e6" stroke-width="0.3">861.45<tspan dx="1.6">B</tspan></text>
<text x="1321.9" y="51.6" font-size="13" fill="#fff" font-weight="normal" text-anchor="start" class="lg">H</text>
<text x="1331.2" y="51.6" font-size="13" fill="#5a97e6" font-weight="normal" text-anchor="start" textLength="49.6" lengthAdjust="spacingAndGlyphs" stroke="#5a97e6" stroke-width="0.3">861.45<tspan dx="1.6">B</tspan></text>
<text x="1389.3" y="51.6" font-size="13" fill="#fff" font-weight="normal" text-anchor="start" class="lg">L</text>
<text x="1395.9" y="51.6" font-size="13" fill="#5a97e6" font-weight="normal" text-anchor="start" textLength="42.0" lengthAdjust="spacingAndGlyphs" stroke="#5a97e6" stroke-width="0.3">642.1<tspan dx="1.6">B</tspan></text>
<text x="1446.4" y="51.6" font-size="13" fill="#fff" font-weight="normal" text-anchor="start" class="lg">C</text>
<text x="1455.8" y="51.6" font-size="13" fill="#5a97e6" font-weight="normal" text-anchor="start" textLength="48.5" lengthAdjust="spacingAndGlyphs" stroke="#5a97e6" stroke-width="0.3">718.81<tspan dx="1.6">B</tspan></text>
<clipPath id="rclip"><rect x="1525" y="63.8" width="80" height="740"/></clipPath>
<g clip-path="url(#rclip)">
<text x="1536.0" y="736.3" font-size="12.6" fill="#d6ddd8" font-weight="bold" text-anchor="start" textLength="37.4" lengthAdjust="spacingAndGlyphs">−500<tspan dx="1.8">B</tspan></text>
<text x="1536.0" y="698.9" font-size="12.6" fill="#d6ddd8" font-weight="bold" text-anchor="start" textLength="37.4" lengthAdjust="spacingAndGlyphs">−250<tspan dx="1.8">B</tspan></text>
<text x="1536.0" y="661.5" font-size="12.6" fill="#d6ddd8" font-weight="bold" text-anchor="start" textLength="7.2" lengthAdjust="spacingAndGlyphs">0</text>
<text x="1536.0" y="624.1" font-size="12.6" fill="#d6ddd8" font-weight="bold" text-anchor="start" textLength="30.4" lengthAdjust="spacingAndGlyphs">250<tspan dx="1.8">B</tspan></text>
<text x="1536.0" y="586.7" font-size="12.6" fill="#d6ddd8" font-weight="bold" text-anchor="start" textLength="30.4" lengthAdjust="spacingAndGlyphs">500<tspan dx="1.8">B</tspan></text>
<text x="1536.0" y="549.3" font-size="12.6" fill="#d6ddd8" font-weight="bold" text-anchor="start" textLength="30.4" lengthAdjust="spacingAndGlyphs">750<tspan dx="1.8">B</tspan></text>
<text x="1536.0" y="512.0" font-size="12.6" fill="#d6ddd8" font-weight="bold" text-anchor="start" textLength="16.1" lengthAdjust="spacingAndGlyphs">1<tspan dx="1.8">T</tspan></text>
<text x="1536.0" y="474.6" font-size="12.6" fill="#d6ddd8" font-weight="bold" text-anchor="start" textLength="34.9" lengthAdjust="spacingAndGlyphs">1.25<tspan dx="1.8">T</tspan></text>
<text x="1536.0" y="437.2" font-size="12.6" fill="#d6ddd8" font-weight="bold" text-anchor="start" textLength="27.7" lengthAdjust="spacingAndGlyphs">1.5<tspan dx="1.8">T</tspan></text>
<text x="1536.0" y="399.8" font-size="12.6" fill="#d6ddd8" font-weight="bold" text-anchor="start" textLength="34.9" lengthAdjust="spacingAndGlyphs">1.75<tspan dx="1.8">T</tspan></text>
<text x="1536.0" y="362.4" font-size="12.6" fill="#d6ddd8" font-weight="bold" text-anchor="start" textLength="16.1" lengthAdjust="spacingAndGlyphs">2<tspan dx="1.8">T</tspan></text>
<text x="1536.0" y="325.0" font-size="12.6" fill="#d6ddd8" font-weight="bold" text-anchor="start" textLength="34.9" lengthAdjust="spacingAndGlyphs">2.25<tspan dx="1.8">T</tspan></text>
<text x="1536.0" y="287.6" font-size="12.6" fill="#d6ddd8" font-weight="bold" text-anchor="start" textLength="27.7" lengthAdjust="spacingAndGlyphs">2.5<tspan dx="1.8">T</tspan></text>
<text x="1536.0" y="250.2" font-size="12.6" fill="#d6ddd8" font-weight="bold" text-anchor="start" textLength="34.9" lengthAdjust="spacingAndGlyphs">2.75<tspan dx="1.8">T</tspan></text>
<text x="1536.0" y="212.9" font-size="12.6" fill="#d6ddd8" font-weight="bold" text-anchor="start" textLength="16.1" lengthAdjust="spacingAndGlyphs">3<tspan dx="1.8">T</tspan></text>
<text x="1536.0" y="175.5" font-size="12.6" fill="#d6ddd8" font-weight="bold" text-anchor="start" textLength="34.9" lengthAdjust="spacingAndGlyphs">3.25<tspan dx="1.8">T</tspan></text>
<text x="1536.0" y="138.1" font-size="12.6" fill="#d6ddd8" font-weight="bold" text-anchor="start" textLength="27.7" lengthAdjust="spacingAndGlyphs">3.5<tspan dx="1.8">T</tspan></text>
<text x="1536.0" y="100.7" font-size="12.6" fill="#d6ddd8" font-weight="bold" text-anchor="start" textLength="34.9" lengthAdjust="spacingAndGlyphs">3.75<tspan dx="1.8">T</tspan></text>
</g>
<rect x="1526.3" y="563" width="59.5" height="11.5" fill="#ffeb3b"/>
<clipPath id="rclip3"><rect x="1526" y="563" width="60" height="12"/></clipPath>
<text x="1535.8" y="570.6" font-size="12.2" fill="#111" font-weight="normal" text-anchor="start" textLength="43.0" lengthAdjust="spacingAndGlyphs" clip-path="url(#rclip3)">614.4<tspan dx="1.8">B</tspan></text>
<rect x="1526.3" y="545" width="66.2" height="18.2" rx="1" fill="#5b9cf6"/>
<text x="1535.8" y="559.0" font-size="12.2" fill="#131722" font-weight="normal" text-anchor="start" textLength="50.0" lengthAdjust="spacingAndGlyphs">689.61<tspan dx="1.8">B</tspan></text>
<rect x="1530" y="35" width="68.8" height="28.2" rx="4.5" fill="#131313" stroke="#3b3b3b" stroke-width="1"/>
<text x="1540.4" y="53.6" font-size="13.4" fill="#cfcfcf" font-weight="normal" text-anchor="start" textLength="23.8" lengthAdjust="spacingAndGlyphs" stroke="#cfcfcf" stroke-width="0.3">USD</text>
<text x="876.5" y="789.0" font-size="13.4" fill="#fff" font-weight="bold" text-anchor="start" textLength="30.6" lengthAdjust="spacingAndGlyphs">2021</text>
<text x="953.2" y="789.0" font-size="13.4" fill="#fff" font-weight="bold" text-anchor="start" textLength="30.6" lengthAdjust="spacingAndGlyphs">2022</text>
<text x="1029.9" y="789.0" font-size="13.4" fill="#fff" font-weight="bold" text-anchor="start" textLength="30.6" lengthAdjust="spacingAndGlyphs">2023</text>
<text x="1106.6" y="789.0" font-size="13.4" fill="#fff" font-weight="bold" text-anchor="start" textLength="30.6" lengthAdjust="spacingAndGlyphs">2024</text>
<text x="1183.3" y="789.0" font-size="13.4" fill="#fff" font-weight="bold" text-anchor="start" textLength="30.6" lengthAdjust="spacingAndGlyphs">2025</text>
<text x="1260.0" y="789.0" font-size="13.4" fill="#fff" font-weight="bold" text-anchor="start" textLength="30.6" lengthAdjust="spacingAndGlyphs">2026</text>
<text x="1336.6" y="789.0" font-size="13.4" fill="#fff" font-weight="bold" text-anchor="start" textLength="30.6" lengthAdjust="spacingAndGlyphs">2027</text>
<text x="1413.3" y="789.0" font-size="13.4" fill="#fff" font-weight="bold" text-anchor="start" textLength="30.6" lengthAdjust="spacingAndGlyphs">2028</text>
<text x="1490.0" y="789.0" font-size="13.4" fill="#fff" font-weight="bold" text-anchor="start" textLength="30.6" lengthAdjust="spacingAndGlyphs">2029</text>
<rect x="11" y="798.6" width="696" height="1.4" fill="#a9bdb7"/>
<rect x="821.5" y="798.6" width="703.5" height="1.4" fill="#a9bdb7"/>
</svg>
</body>
</html>
